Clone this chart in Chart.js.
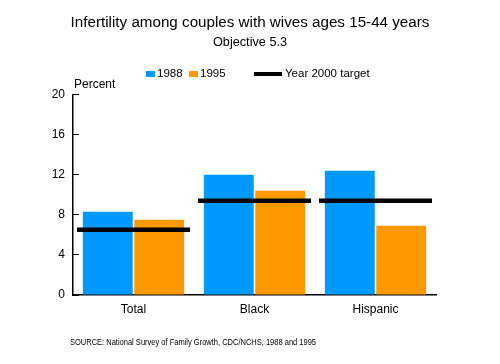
<!DOCTYPE html>
<html>
<head>
<meta charset="utf-8">
<script src="https://cdn.jsdelivr.net/npm/chart.js@4"></script>
<style>
  html, body { margin: 0; padding: 0; background: #fff; }
  #wrap { width: 500px; height: 364px; position: relative; }
</style>
</head>
<body>
<div id="wrap"><canvas id="c" width="500" height="364"></canvas></div>
<script>
const categories = ['Total', 'Black', 'Hispanic'];
const values1988 = [8.3, 12.0, 12.4];
const values1995 = [7.5, 10.4, 6.9];
const target2000 = [6.5, 9.4, 9.4];
const yTicks = [0, 4, 8, 12, 16, 20];
const seriesLabels = ['1988', '1995', 'Year 2000 target'];
const titleText = 'Infertility among couples with wives ages 15-44 years';
const subtitleText = 'Objective 5.3';
const yUnitText = 'Percent';
const sourceText = 'SOURCE: National Survey of Family Growth, CDC/NCHS, 1988 and 1995';

const BLUE = '#0099ff';
const ORANGE = '#ff9900';
const FONT = "'Liberation Sans', Arial, Helvetica, sans-serif";

const extrasPlugin = {
  id: 'extras',
  afterDraw(chart) {
    const ctx = chart.ctx;
    const ca = chart.chartArea;
    ctx.save();
    ctx.fillStyle = '#000';
    ctx.font = '12px ' + FONT;
    ctx.textAlign = 'left';
    ctx.textBaseline = 'middle';
    ctx.fillText(yUnitText, ca.left + 1, ca.top - 10);

    // legend
    ctx.font = '11.5px ' + FONT;
    const ly = 74;
    ctx.fillStyle = BLUE;
    ctx.fillRect(146, ly - 3, 9, 6);
    ctx.fillStyle = '#000';
    ctx.fillText(seriesLabels[0], 157, ly);
    ctx.fillStyle = ORANGE;
    ctx.fillRect(189, ly - 3, 9, 6);
    ctx.fillStyle = '#000';
    ctx.fillText(seriesLabels[1], 200, ly);
    ctx.fillRect(254, ly - 2, 28, 4);
    ctx.fillText(seriesLabels[2], 285, ly);

    // source (condensed like the reference)
    ctx.font = '9.5px ' + FONT;
    const w = ctx.measureText(sourceText).width;
    const sx = 246 / w;
    ctx.translate(70, 342);
    ctx.scale(sx, 1);
    ctx.fillText(sourceText, 0, 0);
    ctx.restore();
  }
};

new Chart(document.getElementById('c'), {
  data: {
    labels: categories,
    datasets: [
      {
        type: 'line',
        label: seriesLabels[2],
        data: target2000,
        showLine: false,
        pointStyle: 'line',
        pointRadius: 56.5,
        pointHoverRadius: 56.5,
        pointBorderWidth: 4.5,
        pointBorderColor: '#000',
        pointBackgroundColor: '#000',
        borderColor: '#000',
        order: 0,
        clip: false
      },
      {
        type: 'bar',
        label: seriesLabels[0],
        data: values1988,
        backgroundColor: BLUE,
        barPercentage: 0.97,
        categoryPercentage: 0.85,
        order: 1
      },
      {
        type: 'bar',
        label: seriesLabels[1],
        data: values1995,
        backgroundColor: ORANGE,
        barPercentage: 0.97,
        categoryPercentage: 0.85,
        order: 1
      }
    ]
  },
  options: {
    responsive: false,
    animation: false,
    events: [],
    layout: { padding: { left: 0, right: 0, top: 0, bottom: 44 } },
    plugins: {
      legend: { display: false },
      tooltip: { enabled: false },
      title: {
        display: true,
        text: titleText,
        color: '#000',
        font: { family: FONT, size: 15.2, weight: 'normal' },
        padding: { top: 14, bottom: 0 }
      },
      subtitle: {
        display: true,
        text: subtitleText,
        color: '#000',
        font: { family: FONT, size: 12.7, weight: 'normal' },
        padding: { top: 2.5, bottom: 44.5 }
      }
    },
    scales: {
      x: {
        grid: { display: false, drawTicks: false },
        border: { display: true, color: '#000', width: 1.5 },
        ticks: { color: '#000', font: { family: FONT, size: 12 }, padding: 7 },
        afterFit(scale) { scale.height = 25; }
      },
      y: {
        min: 0,
        max: 20,
        afterBuildTicks(scale) { scale.ticks = yTicks.map(v => ({ value: v })); },
        grid: { display: true, drawOnChartArea: false, drawTicks: true, tickLength: -6, color: '#000', lineWidth: 1 },
        border: { display: true, color: '#000', width: 1.5 },
        ticks: { color: '#000', font: { family: FONT, size: 12 }, padding: 14 },
        afterFit(scale) { scale.width = 73; }
      },
      yRightSpace: {
        position: 'right',
        display: true,
        min: 0,
        max: 20,
        grid: { display: false, drawTicks: false },
        border: { display: false },
        ticks: { display: false },
        afterFit(scale) { scale.width = 64; }
      }
    }
  },
  plugins: [extrasPlugin]
});
</script>
</body>
</html>
